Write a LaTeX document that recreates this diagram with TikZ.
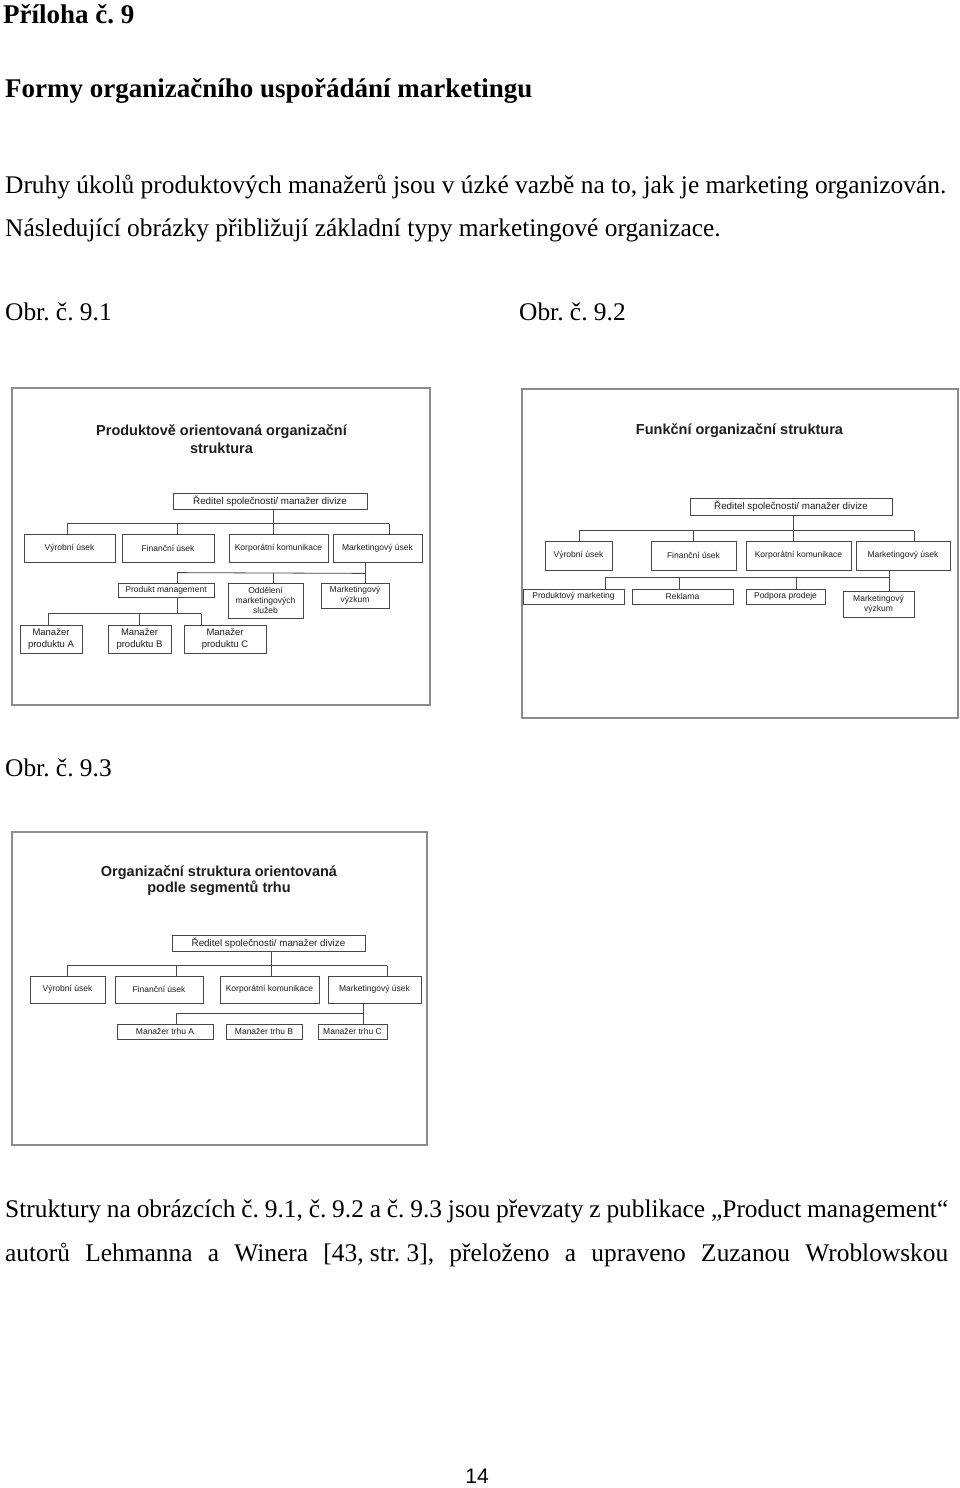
\documentclass[tikz,border=0pt]{standalone}
\usepackage{fontspec}
\setmainfont{Liberation Serif}
\newfontfamily\dsans{Liberation Sans}
\definecolor{framegray}{HTML}{8C8C8C}
\definecolor{boxgray}{HTML}{474747}
\definecolor{txt}{HTML}{1E1E1E}
\newcommand{\fsmall}{\dsans\fontsize{8.5}{10}\selectfont}
\newcommand{\fred}{\dsans\fontsize{9.8}{11}\selectfont}
\newcommand{\fmid}{\dsans\fontsize{9.5}{12}\selectfont}
\newcommand{\fbody}{\fontsize{25.4}{30}\selectfont}
\newcommand{\fhead}{\bfseries\fontsize{27}{32}\selectfont}
\tikzset{
  panel/.style={draw=framegray, line width=1.5pt, inner sep=0pt},
  obox/.style={draw=boxgray, line width=0.8pt, inner sep=0pt, align=center, text=txt, font=\fsmall},
  conn/.style={draw=boxgray, line width=0.8pt},
  ptitle/.style={align=center, inner sep=0pt, text=txt},
  body/.style={anchor=base west, inner sep=0pt, font=\fbody},
}
\frenchspacing
\begin{document}
\frenchspacing
\begin{tikzpicture}[x=1pt,y=-1pt]
\useasboundingbox[fill=white] (0,0) rectangle (960,1488);

% ---------- page text ----------
\node[body, font=\fhead] (h1) at (3,24) {Příloha č. 9};
\node[body, font=\fhead] (h2) at (5,97) {Formy organizačního uspořádání marketingu};
\node[body] (p1) at (5,193) {Druhy úkolů produktových manažerů jsou v úzké vazbě na to, jak je marketing organizován.};
\node[body] (p2) at (5,236) {Následující obrázky přibližují základní typy marketingové organizace.};
\node[body] (o1) at (5,320) {Obr. č. 9.1};
\node[body] (o2) at (519,320) {Obr. č. 9.2};
\node[body] (o3) at (5,776) {Obr. č. 9.3};
\node[body] (q1) at (5,1217) {\makebox[943pt][s]{Struktury na obrázcích č. 9.1, č. 9.2 a č. 9.3 jsou převzaty z publikace „Product management“}};
\node[body] (q2) at (5,1261) {\makebox[943pt][s]{autorů Lehmanna a Winera \hbox{[43, str. 3],} přeloženo a upraveno Zuzanou Wroblowskou}};
\node[anchor=base, inner sep=0pt, font=\dsans\fontsize{21}{24}\selectfont] (pg) at (477,1483) {14};

% ---------- Obr. 9.1 ----------
\node[panel, minimum width=418pt, minimum height=317pt] (f1) at (221,546.5) {};
\node[ptitle, font=\dsans\bfseries\fontsize{14.5}{18}\selectfont] (t1) at (221.5,439) {Produktově orientovaná organizační\\struktura};
\node[obox, font=\fred, minimum width=194pt, minimum height=16pt] (red1) at (270,501) {Ředitel společnosti/ manažer divize};
\node[obox, minimum width=91pt, minimum height=28pt] (vyr1) at (69.5,548) {Výrobní úsek};
\node[obox, minimum width=92pt, minimum height=28pt] (fin1) at (168,548) {Finanční úsek};
\node[obox, minimum width=99pt, minimum height=28pt] (kor1) at (278.5,548) {Korporátní komunikace};
\node[obox, minimum width=89pt, minimum height=28pt] (mkt1) at (377.5,548) {Marketingový úsek};
\node[obox, minimum width=96pt, minimum height=14pt] (pm1) at (166,590) {Produkt management};
\node[obox, minimum width=75pt, minimum height=35pt] (odd1) at (265.5,600.5) {Oddělení\\marketingových\\služeb};
\node[obox, minimum width=68pt, minimum height=25pt] (vyz1) at (355,595.5) {Marketingový\\výzkum};
\node[obox, font=\fmid, minimum width=62pt, minimum height=28pt] (ma1) at (51,639) {Manažer\\produktu A};
\node[obox, font=\fmid, minimum width=63pt, minimum height=28pt] (mb1) at (139.5,639) {Manažer\\produktu B};
\node[obox, font=\fmid, minimum width=82pt, minimum height=28pt] (mc1) at (225,639) {Manažer\\produktu C};

\draw[conn] ([xshift=3pt]red1.south) -- ++(0,15);
\draw[conn] ([xshift=-2.5pt]vyr1.north) -- ++(0,-10) coordinate (b1a);
\draw[conn] ([xshift=9pt]fin1.north) -- ++(0,-10);
\draw[conn] ([xshift=-5.5pt]kor1.north) -- ++(0,-10);
\draw[conn] ([xshift=11.5pt]mkt1.north) -- ++(0,-10) coordinate (b1d);
\draw[conn] (b1a) -- (b1d);
\draw[conn] ([xshift=-12.5pt]mkt1.south) -- ++(0,11) coordinate (b2r);
\draw[conn] ([xshift=11pt]pm1.north) -- ++(0,-10) coordinate (b2l);
\draw[conn] ([xshift=7.5pt]odd1.north) -- ++(0,-10);
\draw[conn] ([xshift=10pt]vyz1.north) -- ++(0,-10);
\draw[conn] (b2l) -- (b2r);
\draw[conn] ([xshift=11pt]pm1.south) -- ++(0,17);
\draw[conn] ([xshift=-3pt]ma1.north) -- ++(0,-11) coordinate (b3l);
\draw[conn] ([xshift=-0.5pt]mb1.north) -- ++(0,-11);
\draw[conn] ([xshift=-24pt]mc1.north) -- ++(0,-11) coordinate (b3r);
\draw[conn] (b3l) -- (b3r);

% ---------- Obr. 9.2 ----------
\node[panel, minimum width=436pt, minimum height=329pt] (f2) at (740,553.5) {};
\node[ptitle, font=\dsans\bfseries\fontsize{14.5}{18}\selectfont] (t2) at (739.5,431) {Funkční organizační struktura};
\node[obox, font=\fred, minimum width=202pt, minimum height=17pt] (red2) at (791,506.5) {Ředitel společnosti/ manažer divize};
\node[obox, minimum width=67pt, minimum height=29pt] (vyr2) at (578.5,555.5) {Výrobní úsek};
\node[obox, minimum width=85pt, minimum height=29pt] (fin2) at (693.5,555.5) {Finanční úsek};
\node[obox, minimum width=105pt, minimum height=29pt] (kor2) at (798.5,555.5) {Korporátní komunikace};
\node[obox, minimum width=94pt, minimum height=29pt] (mkt2) at (903,555.5) {Marketingový úsek};
\node[obox, minimum width=101pt, minimum height=15pt] (pmk2) at (573.5,596.5) {Produktový marketing};
\node[obox, minimum width=101pt, minimum height=15pt] (rek2) at (682.5,596.5) {Reklama};
\node[obox, minimum width=79pt, minimum height=15pt] (pod2) at (785.5,596.5) {Podpora prodeje};
\node[obox, minimum width=71pt, minimum height=26pt] (vyz2) at (878.5,604) {Marketingový\\výzkum};

\draw[conn] ([xshift=2pt]red2.south) -- ++(0,16);
\draw[conn] ([xshift=0.5pt]vyr2.north) -- ++(0,-10) coordinate (c1a);
\draw[conn] ([xshift=-0.5pt]fin2.north) -- ++(0,-10);
\draw[conn] ([xshift=-5.5pt]kor2.north) -- ++(0,-10);
\draw[conn] ([xshift=11pt]mkt2.north) -- ++(0,-10) coordinate (c1d);
\draw[conn] (c1a) -- (c1d);
\draw[conn] ([xshift=-14pt]mkt2.south) -- ++(0,8);
\draw[conn] ([xshift=31.5pt]pmk2.north) -- ++(0,-11) coordinate (c2l);
\draw[conn] ([xshift=-3.5pt]rek2.north) -- ++(0,-11);
\draw[conn] ([xshift=10.5pt]pod2.north) -- ++(0,-11);
\draw[conn] ([xshift=10.5pt]vyz2.north) -- ++(0,-13) coordinate (c2r);
\draw[conn] (c2l) -- (c2r);

% ---------- Obr. 9.3 ----------
\node[panel, minimum width=415pt, minimum height=313pt] (f3) at (219.5,988.5) {};
\node[ptitle, font=\dsans\bfseries\fontsize{14.5}{16}\selectfont] (t3) at (219,881) {Organizační struktura orientovaná\\podle segmentů trhu};
\node[obox, font=\fred, minimum width=193pt, minimum height=16pt] (red3) at (268.5,943) {Ředitel společnosti/ manažer divize};
\node[obox, minimum width=75pt, minimum height=27pt] (vyr3) at (67.5,989.5) {Výrobní úsek};
\node[obox, minimum width=88pt, minimum height=27pt] (fin3) at (159,989.5) {Finanční úsek};
\node[obox, minimum width=99pt, minimum height=27pt] (kor3) at (269.5,989.5) {Korporátní komunikace};
\node[obox, minimum width=93pt, minimum height=27pt] (mkt3) at (374.5,989.5) {Marketingový úsek};
\node[obox, minimum width=96pt, minimum height=15pt] (mta3) at (165,1031.5) {Manažer trhu A};
\node[obox, minimum width=76pt, minimum height=15pt] (mtb3) at (264,1031.5) {Manažer trhu B};
\node[obox, minimum width=69pt, minimum height=15pt] (mtc3) at (352.5,1031.5) {Manažer trhu C};

\draw[conn] ([xshift=2.5pt]red3.south) -- ++(0,15);
\draw[conn] ([xshift=-0.5pt]vyr3.north) -- ++(0,-10) coordinate (d1a);
\draw[conn] ([xshift=17pt]fin3.north) -- ++(0,-10);
\draw[conn] ([xshift=1.5pt]kor3.north) -- ++(0,-10);
\draw[conn] ([xshift=12.5pt]mkt3.north) -- ++(0,-10) coordinate (d1d);
\draw[conn] (d1a) -- (d1d);
\draw[conn] ([xshift=-11.5pt]mkt3.south) -- ++(0,11);
\draw[conn] ([xshift=11pt]mta3.north) -- ++(0,-10) coordinate (d2l);
\draw[conn] ([xshift=10.5pt]mtc3.north) -- ++(0,-10) coordinate (d2r);
\draw[conn] (d2l) -- (d2r);
\end{tikzpicture}
\end{document}
